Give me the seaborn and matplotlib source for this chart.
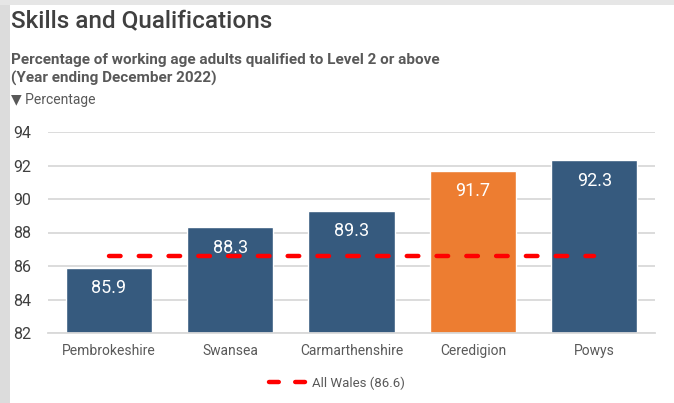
import matplotlib
matplotlib.use("Agg")
import matplotlib.pyplot as plt
import matplotlib.patches as mpatches
from matplotlib.lines import Line2D
import seaborn as sns
import pandas as pd

# Data
areas = ["Pembrokeshire", "Swansea", "Carmarthenshire", "Ceredigion", "Powys"]
values = [85.9, 88.3, 89.3, 91.7, 92.3]
highlight = ["other", "other", "other", "Ceredigion", "other"]
wales_avg = 86.6
yticks = [82, 84, 86, 88, 90, 92, 94]

BLUE = "#365a7e"
ORANGE = "#ed7d31"
RED = "#ff0000"
GRID = "#d9d9d9"
TEXT = "#404040"
SUB = "#595959"

sns.set_theme(style="white")
plt.rcParams["font.family"] = ["Roboto", "DejaVu Sans"]

df = pd.DataFrame({"area": areas, "value": values, "group": highlight})

fig = plt.figure(figsize=(6.74, 4.03), dpi=100)
fig.patch.set_facecolor("white")

# grey frame along the left and top edges
fig.patches.append(mpatches.Rectangle((0, 0), 10 / 674, 1, transform=fig.transFigure,
                                      facecolor="#dcdcdc", edgecolor="none", zorder=0))
fig.patches.append(mpatches.Rectangle((0, 1 - 5 / 403), 1, 5 / 403, transform=fig.transFigure,
                                      facecolor="#e6e6e6", edgecolor="none", zorder=0))

ax = fig.add_axes([48 / 674, 1 - 333 / 403, (655 - 48) / 674, (333 - 132) / 403])

sns.barplot(data=df, x="area", y="value", hue="group",
            palette={"other": BLUE, "Ceredigion": ORANGE}, saturation=1,
            dodge=False, width=0.71, legend=False, ax=ax, zorder=2)

ax.set_ylim(82, 94)
ax.set_xlim(-0.5, len(areas) - 0.5)
ax.set_yticks(yticks)
ax.set_yticklabels([str(t) for t in yticks], fontsize=11.5, color=TEXT)
ax.tick_params(axis="y", length=0, pad=12)
ax.tick_params(axis="x", length=0, pad=8, labelsize=10, labelcolor=SUB)
ax.set_xlabel("")
ax.set_ylabel("")
ax.yaxis.grid(True, color=GRID, linewidth=1.3)
ax.set_axisbelow(True)
for s in ["top", "right", "left"]:
    ax.spines[s].set_visible(False)
ax.spines["bottom"].set_color(GRID)
ax.spines["bottom"].set_linewidth(1.3)

# value labels inside the bars
for i, v in enumerate(values):
    ax.annotate(f"{v:.1f}", (i, v), xytext=(0, -14.5), textcoords="offset points",
                ha="center", va="center", color="white", fontsize=13, zorder=4)

# All Wales average
dash = (0, (2.6, 4.1))
ax.plot([0, len(areas) - 1], [wales_avg, wales_avg], color=RED, linewidth=3.2,
        linestyle=dash, dash_capstyle="round", zorder=3)

handle = Line2D([], [], color=RED, linewidth=3.2, linestyle=(0, (2.2, 3.7)),
                dash_capstyle="round")
fig.legend([handle], [f"All Wales ({wales_avg})"], loc="center",
           bbox_to_anchor=(337 / 674, 1 - 383 / 403), frameon=False,
           fontsize=9.5, labelcolor=SUB, handlelength=2.7, handletextpad=0.5)

# Titles
fig.text(11 / 674, 1 - 22 / 403, "Skills and Qualifications", fontsize=17.5,
         color=TEXT, fontweight="medium", va="center", ha="left")
fig.text(11 / 674, 1 - 60 / 403, "Percentage of working age adults qualified to Level 2 or above",
         fontsize=11, color=SUB, fontweight="bold", va="center", ha="left")
fig.text(11 / 674, 1 - 78 / 403, "(Year ending December 2022)",
         fontsize=11, color=SUB, fontweight="bold", va="center", ha="left")
fig.text(11 / 674, 1 - 100 / 403, "▼ Percentage", fontsize=10,
         color=SUB, va="center", ha="left")

fig.savefig("out.png", dpi=100)
